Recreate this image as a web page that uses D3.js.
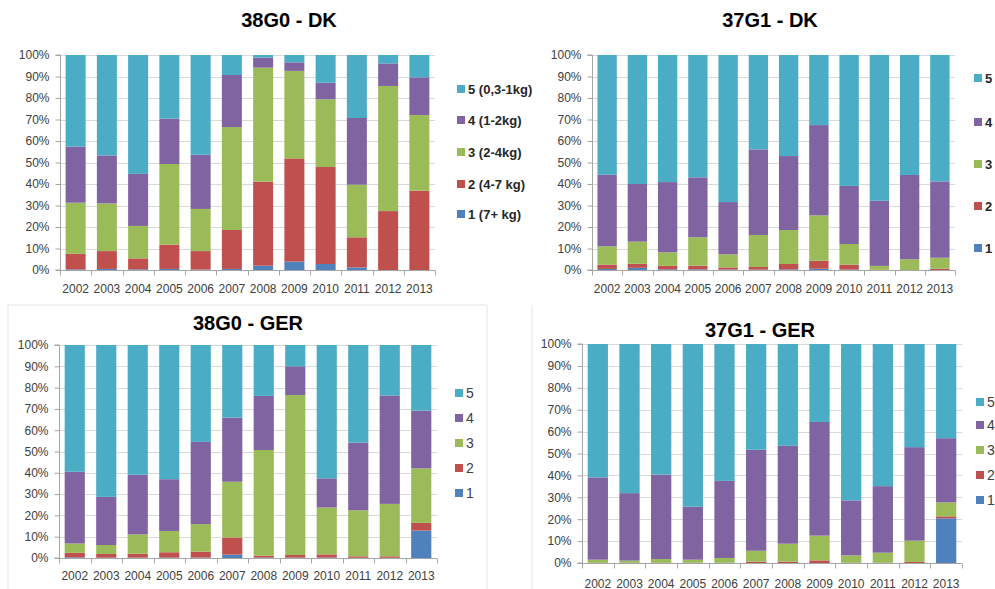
<!DOCTYPE html>
<html>
<head>
<meta charset="utf-8">
<script src="https://cdn.jsdelivr.net/npm/d3@7"></script>
<style>
  html, body { margin: 0; padding: 0; background: #fff; }
  svg { display: block; }
  text { font-family: "Liberation Sans", Arial, sans-serif; }
</style>
</head>
<body>
<svg id="chart" width="995" height="589"></svg>
<script>
// ---------- DATA ----------
const years = ["2002","2003","2004","2005","2006","2007","2008","2009","2010","2011","2012","2013"];
const yTicks = [0,10,20,30,40,50,60,70,80,90,100];
const seriesKeys = ["1","2","3","4","5"];
const seriesColors = ["#4F81BD","#C0504D","#9BBB59","#8064A2","#4BACC6"];
const legendLabelsLong = ["1 (7+ kg)","2 (4-7 kg)","3 (2-4kg)","4 (1-2kg)","5 (0,3-1kg)"];
const legendLabelsShort = ["1","2","3","4","5"];
const titles = ["38G0 - DK","37G1 - DK","38G0 - GER","37G1 - GER"];

// 38G0 - DK (percent per size class)
const dk38_1 = [0.3,0.5,0.3,0.5,0.2,0.5,2.0,3.9,2.8,1.2,0,0];
const dk38_2 = [7.2,8.3,5.1,11.3,8.6,18.1,39.1,48.0,45.1,14.0,27.4,36.9];
const dk38_3 = [23.8,22.2,15.1,37.5,19.6,47.9,53.0,40.7,31.5,24.5,58.2,35.2];
const dk38_4 = [26.1,22.3,24.2,21.1,25.2,24.2,4.7,4.0,7.7,31.0,10.5,17.5];
const dk38_5 = [42.6,46.7,55.3,29.6,46.4,9.3,1.2,3.4,12.9,29.3,3.9,10.4];

// 37G1 - DK
const dk37_1 = [0.5,1.0,0.3,0.3,0.2,0.2,0.3,0.6,0.2,0,0,0];
const dk37_2 = [2.0,1.9,1.6,1.7,1.0,1.2,2.5,3.7,2.3,0.2,0,0.6];
const dk37_3 = [8.5,10.3,6.3,13.2,6.1,14.9,15.8,21.1,9.6,1.7,5.0,5.1];
const dk37_4 = [33.3,26.8,32.7,27.9,24.3,39.8,34.4,42.0,27.0,30.3,39.2,35.5];
const dk37_5 = [55.7,60.0,59.1,56.9,68.4,43.9,47.0,32.6,60.9,67.8,55.8,58.8];

// 38G0 - GER
const ger38_1 = [0.3,0.2,0.2,0.2,0.2,1.6,0.2,0.2,0.2,0.1,0.1,12.9];
const ger38_2 = [2.1,1.7,1.8,2.5,2.8,8.0,0.9,1.2,1.5,0.7,0.7,3.6];
const ger38_3 = [4.4,4.2,9.1,10.0,12.9,26.2,49.6,75.1,22.0,21.6,24.6,25.6];
const ger38_4 = [33.7,22.6,28.0,24.3,38.6,30.1,25.4,13.5,13.7,31.8,50.9,27.1];
const ger38_5 = [59.5,71.3,60.9,63.0,45.5,34.1,23.9,10.0,62.6,45.8,23.7,30.8];

// 37G1 - GER
const ger37_1 = [0,0,0,0,0,0,0,0,0,0,0,20.4];
const ger37_2 = [0.1,0.1,0.1,0.1,0.1,0.6,0.6,1.2,0.1,0.1,0.5,0.9];
const ger37_3 = [1.4,1.0,1.7,1.4,2.2,5.0,8.2,11.3,3.4,4.6,9.7,6.4];
const ger37_4 = [37.6,30.8,38.6,24.2,35.2,46.1,44.7,51.9,25.1,30.4,42.7,29.3];
const ger37_5 = [60.9,68.1,59.6,74.3,62.5,48.3,46.5,35.6,71.4,64.9,47.1,43.0];

// ---------- LAYOUT ----------
const svg = d3.select("#chart");

// faint frames around the lower chart objects
svg.append("path").attr("d","M8,589 V305 H487 V589").attr("fill","none").attr("stroke","#e6e6e6").attr("stroke-width",1);
svg.append("path").attr("d","M532,589 V305").attr("fill","none").attr("stroke","#e6e6e6").attr("stroke-width",1);

const panels = [
  { title: titles[0], series: [dk38_1,dk38_2,dk38_3,dk38_4,dk38_5], labels: legendLabelsLong, bold: true,
    x0: 60, x1: 435, yTop: 55, yBot: 270, titleX: 289, titleY: 27, xLabY: 292,
    legX: 457, legY: [214,184,152,120,89], legFont: 13 },
  { title: titles[1], series: [dk37_1,dk37_2,dk37_3,dk37_4,dk37_5], labels: legendLabelsShort, bold: true,
    x0: 592, x1: 955, yTop: 55, yBot: 270, titleX: 770, titleY: 27, xLabY: 292,
    legX: 974, legY: [248,206,164,122,78], legFont: 13 },
  { title: titles[2], series: [ger38_1,ger38_2,ger38_3,ger38_4,ger38_5], labels: legendLabelsShort, bold: false,
    x0: 59, x1: 437, yTop: 345, yBot: 558, titleX: 248, titleY: 330, xLabY: 579,
    legX: 455, legY: [493,468,443,418,393], legFont: 14 },
  { title: titles[3], series: [ger37_1,ger37_2,ger37_3,ger37_4,ger37_5], labels: legendLabelsShort, bold: false,
    x0: 582, x1: 962, yTop: 344, yBot: 563, titleX: 760, titleY: 337, xLabY: 587,
    legX: 976, legY: [500,475,450,425,402], legFont: 14 }
];

panels.forEach(p => {
  const g = svg.append("g");
  const rows = years.map((yr, i) => {
    const r = { year: yr };
    seriesKeys.forEach((k, j) => r[k] = p.series[j][i]);
    return r;
  });
  const stacked = d3.stack().keys(seriesKeys).offset(d3.stackOffsetExpand)(rows);

  const x = d3.scaleBand().domain(years).range([p.x0, p.x1]).paddingInner(0.36).paddingOuter(0.18);
  const y = d3.scaleLinear().domain([0, 1]).range([p.yBot, p.yTop]);

  // gridlines
  g.append("g").selectAll("line").data(yTicks.filter(t => t > 0)).join("line")
    .attr("x1", p.x0).attr("x2", p.x1)
    .attr("y1", d => Math.round(y(d/100)) + 0.5).attr("y2", d => Math.round(y(d/100)) + 0.5)
    .attr("stroke", "#d9d9d9").attr("stroke-width", 1);

  // bars
  g.append("g").selectAll("g").data(stacked).join("g")
    .attr("fill", (d, i) => seriesColors[i])
    .selectAll("rect").data(d => d).join("rect")
    .attr("x", d => x(d.data.year))
    .attr("width", x.bandwidth())
    .attr("y", d => y(d[1]))
    .attr("height", d => Math.max(0, y(d[0]) - y(d[1])));

  // y axis
  const yAxis = d3.axisLeft(y).tickValues(yTicks.map(t => t/100)).tickFormat(d => Math.round(d*100) + "%").tickSize(5).tickPadding(6);
  const ya = g.append("g").attr("transform", `translate(${p.x0 + 0.5},0)`).call(yAxis);
  ya.select(".domain").attr("stroke", "#a6a6a6").attr("d", `M-5,${p.yTop}H0V${p.yBot}H-5`);
  ya.selectAll(".tick line").attr("stroke", "#a6a6a6");
  ya.selectAll(".tick text").attr("fill", "#404040").style("font-size", "12px");

  // x axis
  const xAxis = d3.axisBottom(x).tickSize(0).tickPadding(0);
  const xa = g.append("g").attr("transform", `translate(0,${Math.round(p.yBot) + 0.5})`).call(xAxis);
  xa.select(".domain").attr("stroke", "#a6a6a6").attr("d", `M${p.x0},0H${p.x1}`);
  xa.selectAll(".tick text").attr("fill", "#404040").style("font-size", "12px")
    .attr("y", p.xLabY - p.yBot).attr("dy", "0");
  // category separator ticks
  const step = x.step();
  xa.append("g").selectAll("line").data(d3.range(years.length + 1)).join("line")
    .attr("x1", i => Math.round(p.x0 + i * (p.x1 - p.x0) / years.length) + 0.5)
    .attr("x2", i => Math.round(p.x0 + i * (p.x1 - p.x0) / years.length) + 0.5)
    .attr("y1", 0).attr("y2", 5).attr("stroke", "#a6a6a6");

  // title
  g.append("text").attr("x", p.titleX).attr("y", p.titleY).attr("text-anchor", "middle")
    .style("font-size", "20px").style("font-weight", "bold").attr("fill", "#000").text(p.title);

  // legend
  seriesKeys.forEach((k, j) => {
    const ly = p.legY[j];
    g.append("rect").attr("x", p.legX).attr("y", ly - 4).attr("width", 8).attr("height", 8).attr("fill", seriesColors[j]);
    g.append("text").attr("x", p.legX + 11).attr("y", ly).attr("dy", "0.35em")
      .style("font-size", p.legFont + "px").style("font-weight", p.bold ? "bold" : "normal")
      .attr("fill", p.bold ? "#262626" : "#404040").text(p.labels[j]);
  });
});
</script>
</body>
</html>
